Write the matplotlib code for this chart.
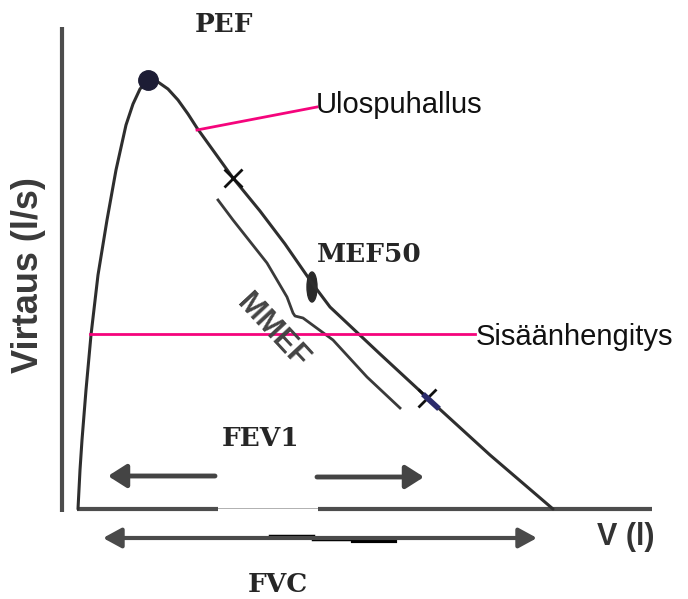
import matplotlib
matplotlib.use("Agg")
import matplotlib.pyplot as plt
from matplotlib.patches import Ellipse

# flow-volume loop sketch, units: V ~ volume, F ~ flow (arbitrary, origin at the axes corner)
insp_vol = [1, 3, 5, 9, 14, 21, 30, 39, 49, 56, 63, 71]
insp_flow = [0, 39, 69, 119, 174, 234, 289, 339, 384, 405, 420, 429]
exp_vol = [71, 81, 91, 101, 111, 120, 138, 156, 183, 208, 235, 253, 303, 356, 413, 476]
exp_flow = [429, 427, 420, 409, 395, 381, 356, 331, 298, 265, 226, 202, 155, 106, 54, 0]

pef = (71, 429)
mef50 = (235, 222)
mmef_marks_vol = [156, 350]
mmef_marks_flow = [331, 111]

# curly brace alongside the MMEF part of the curve
brace_vol = [141, 156, 190, 210, 216, 218, 226, 256, 290, 323]
brace_flow = [309, 289, 246, 212, 196, 193, 191, 169, 132, 101]

fev1_left = (138, 31)
fev1_right = (240, 347)
fvc_span = (26, 460)

axis_col = "#4d4d4d"
curve_col = "#2e2e2e"
pink = "#f5047c"

fig = plt.figure(figsize=(6.88, 5.99), dpi=100)
ax = fig.add_axes([0, 0, 1, 1])
ax.set_xlim(-77, 611)
ax.set_ylim(-90, 509)
ax.axis("off")

# axes drawn by hand
ax.plot([-15, -15], [-3, 482], color=axis_col, lw=3, solid_capstyle="butt")
ax.plot([0, 141], [0, 0], color=axis_col, lw=3, solid_capstyle="butt")
ax.plot([141, 241], [1, 1], color="#b0b0b0", lw=0.7)
ax.plot([241, 575], [0, 0], color=axis_col, lw=3, solid_capstyle="butt")

# the loop
ax.plot(insp_vol, insp_flow, color=curve_col, lw=2.2, solid_capstyle="round")
ax.plot(exp_vol, exp_flow, color=curve_col, lw=2.2, solid_capstyle="round")
ax.plot(brace_vol, brace_flow, color="#3a3a3a", lw=2.0)

ax.plot(*pef, "o", color="#1d1d35", ms=14)
ax.add_patch(Ellipse(mef50, 10, 30, color="#2a2a2a"))
ax.plot(mmef_marks_vol, mmef_marks_flow, "x", color="#111111", ms=13, mew=2)
ax.plot([mmef_marks_vol[1] - 2, mmef_marks_vol[1] + 10],
        [mmef_marks_flow[1] + 2, mmef_marks_flow[1] - 9], color="#2b2b6b", lw=4)

# pink pointers
ax.plot([120, 240], [379, 402], color=pink, lw=2)
ax.plot([13, 398], [175, 175], color=pink, lw=2)
ax.text(239, 396, "Ulospuhallus", family="Liberation Sans", fontsize=21,
        color="#111111", va="baseline", ha="left")
ax.text(399, 164, "Sisäänhengitys", family="Liberation Sans", fontsize=21,
        color="#111111", va="baseline", ha="left")

# arrows
arrow = dict(arrowstyle="-|>,head_length=0.55,head_width=0.35", color="#444444",
             lw=3.5, mutation_scale=20, shrinkA=0, shrinkB=0)
ax.annotate("", xy=(fev1_left[1], 33), xytext=(fev1_left[0], 33), arrowprops=arrow)
ax.annotate("", xy=(fev1_right[1], 32), xytext=(fev1_right[0], 32), arrowprops=arrow)
arrow2 = dict(arrowstyle="<|-|>,head_length=0.55,head_width=0.3", color="#4a4a4a",
              lw=3, mutation_scale=20, shrinkA=0, shrinkB=0)
ax.annotate("", xy=(fvc_span[1], -29), xytext=(fvc_span[0], -29), arrowprops=arrow2)
ax.plot([193, 236], [-26.5, -26.5], color="black", lw=2.5)
ax.plot([236, 276], [-30, -30], color="black", lw=2.5)
ax.plot([276, 318], [-32, -32], color="black", lw=3)

# labels
serif = dict(family="DejaVu Serif", fontweight="bold", fontsize=19, color="#262626",
             ha="center", va="center")
ax.text(147, 484, "PEF", **serif)
ax.text(292, 255, "MEF50", **serif)
ax.text(184, 71, "FEV1", **serif)
ax.text(201, -75, "FVC", **serif)

ax.text(195, 178, "MMEF", family="Liberation Sans", fontweight="bold", fontsize=22,
        color="#444444", rotation=-47, ha="center", va="center", rotation_mode="anchor")
ax.text(-48, 234, "Virtaus (l/s)", family="Liberation Sans", fontweight="bold",
        fontsize=26, color="#3a3a3a", rotation=90, ha="center", va="center")
ax.text(520, -36, "V (l)", family="Liberation Sans", fontweight="bold", fontsize=22,
        color="#333333", ha="left", va="baseline")

fig.savefig("out.png", dpi=100, facecolor="white")
